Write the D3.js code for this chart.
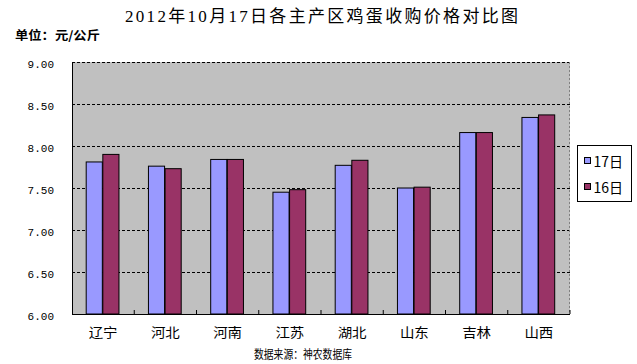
<!DOCTYPE html>
<html>
<head>
<meta charset="utf-8">
<script src="https://cdn.jsdelivr.net/npm/d3@7"></script>
<style>
  body { margin: 0; background: #fff; }
  svg { display: block; }
  .axis text { font-family: "Liberation Mono", "DejaVu Sans Mono", monospace; font-size: 11px; fill: #000; }
  .cn { font-family: "Noto Sans CJK SC", sans-serif; }
</style>
</head>
<body>
<svg id="chart"></svg>
<script>
// Data
const provinces = ['辽宁', '河北', '河南', '江苏', '湖北', '山东', '吉林', '山西'];
const day17 = [7.81, 7.76, 7.84, 7.45, 7.77, 7.50, 8.16, 8.34];
const day16 = [7.90, 7.73, 7.84, 7.48, 7.83, 7.51, 8.16, 8.37];
const seriesNames = ['17日', '16日'];
const seriesColors = ['#9999ff', '#993366'];
const yTicks = [6, 6.5, 7, 7.5, 8, 8.5, 9];

const width = 637, height = 364;
const margin = {top: 62, right: 67, bottom: 50, left: 72};
const innerW = width - margin.left - margin.right;
const innerH = height - margin.top - margin.bottom;

const svg = d3.select('#chart')
    .attr('width', width)
    .attr('height', height);

// Title and unit label
svg.append('text')
    .attr('x', 125).attr('y', 22)
    .attr('textLength', 393)
    .attr('lengthAdjust', 'spacing')
    .style('font-family', '"Liberation Serif", "Noto Sans CJK SC", serif')
    .style('font-size', '17px')
    .text('2012年10月17日各主产区鸡蛋收购价格对比图');

svg.append('text')
    .attr('class', 'cn')
    .attr('x', 15).attr('y', 40)
    .attr('textLength', 85)
    .attr('lengthAdjust', 'spacingAndGlyphs')
    .style('font-size', '12px')
    .style('font-weight', 'bold')
    .text('单位：元/公斤');

const chart = svg.append('g')
    .attr('transform', `translate(${margin.left},${margin.top})`);

const x0 = d3.scaleBand().domain(provinces).range([0, innerW]).paddingInner(0).paddingOuter(0);
const x1 = d3.scaleBand().domain(seriesNames).range([13.7, x0.bandwidth() - 14.8]).padding(0.03);
const y = d3.scaleLinear().domain([6, 9]).range([innerH, 0]);

// Plot area
chart.append('rect')
    .attr('width', innerW).attr('height', innerH)
    .attr('fill', '#c0c0c0');

// Dashed gridlines
chart.append('g')
  .selectAll('line')
  .data(yTicks.filter(d => d > 6))
  .join('line')
    .attr('x1', 0).attr('x2', innerW)
    .attr('y1', d => Math.round(y(d)) + 0.5)
    .attr('y2', d => Math.round(y(d)) + 0.5)
    .attr('stroke', '#000')
    .attr('stroke-dasharray', '3,2');

// Right border, dotted
chart.append('line')
    .attr('x1', innerW - 0.5).attr('x2', innerW - 0.5)
    .attr('y1', 0).attr('y2', innerH)
    .attr('stroke', '#808080')
    .attr('stroke-dasharray', '2,2');

// Bars
const rows = provinces.map((p, i) => ({p, vals: [day17[i], day16[i]]}));
chart.append('g')
  .selectAll('g')
  .data(rows)
  .join('g')
    .attr('transform', d => `translate(${x0(d.p)},0)`)
  .selectAll('rect')
  .data(d => d.vals.map((v, j) => ({s: seriesNames[j], v, c: seriesColors[j]})))
  .join('rect')
    .attr('x', d => x1(d.s))
    .attr('y', d => y(d.v))
    .attr('width', x1.bandwidth())
    .attr('height', d => innerH - y(d.v))
    .attr('fill', d => d.c)
    .attr('stroke', '#000')
    .attr('stroke-width', 1);

// Y axis
const yAxis = d3.axisLeft(y)
    .tickValues(yTicks)
    .tickSize(0)
    .tickPadding(18)
    .tickFormat(d3.format('.2f'));
chart.append('g')
    .attr('class', 'axis')
    .call(yAxis)
    .call(g => g.selectAll('text').attr('dy', '0.5em'))
    .call(g => g.select('.domain').attr('stroke', '#000'));

// X axis with inward ticks at category boundaries
const xAxisG = chart.append('g')
    .attr('transform', `translate(0,${innerH})`);
xAxisG.append('line')
    .attr('x1', 0).attr('x2', innerW)
    .attr('y1', 0.5).attr('y2', 0.5)
    .attr('stroke', '#000');
xAxisG.selectAll('.tick')
  .data(provinces.slice(1).concat(['end']))
  .join('line')
    .attr('x1', (d, i) => x0.step() * (i + 1))
    .attr('x2', (d, i) => x0.step() * (i + 1))
    .attr('y1', 0).attr('y2', -4)
    .attr('stroke', '#000');
xAxisG.selectAll('text')
  .data(provinces)
  .join('text')
    .attr('class', 'cn')
    .attr('x', d => x0(d) + x0.bandwidth() / 2 - 14.5)
    .attr('y', 23)
    .attr('textLength', 29)
    .attr('lengthAdjust', 'spacingAndGlyphs')
    .style('font-size', '13px')
    .text(d => d);

// Source note
svg.append('text')
    .attr('class', 'cn')
    .attr('x', 254).attr('y', 359)
    .attr('textLength', 98)
    .attr('lengthAdjust', 'spacingAndGlyphs')
    .style('font-size', '12px')
    .text('数据来源：神农数据库');

// Legend
const legend = svg.append('g').attr('transform', 'translate(577.5,145.5)');
legend.append('rect')
    .attr('width', 54).attr('height', 56)
    .attr('fill', '#fff').attr('stroke', '#000');
seriesNames.forEach((s, i) => {
  legend.append('rect')
      .attr('x', 7).attr('y', 12 + i * 26)
      .attr('width', 6).attr('height', 6)
      .attr('fill', seriesColors[i]).attr('stroke', '#000');
  legend.append('text')
      .attr('class', 'cn')
      .attr('x', 16).attr('y', 21 + i * 26)
      .style('font-size', '14px')
      .text(s);
});
</script>
</body>
</html>
